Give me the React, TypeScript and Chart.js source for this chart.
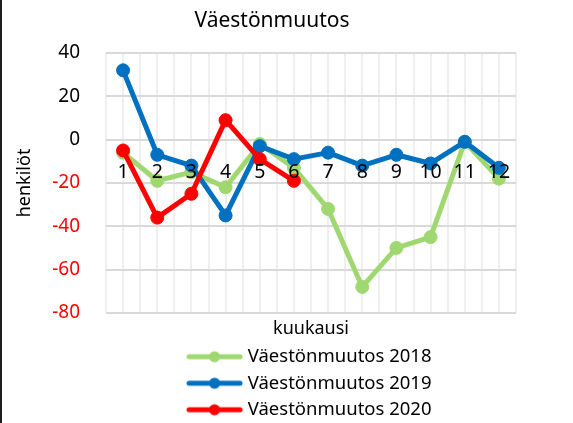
import React, { useEffect, useRef } from 'react';
import { Chart, registerables } from 'chart.js';

Chart.register(...registerables);

// ---- data ----
const months = [1, 2, 3, 4, 5, 6, 7, 8, 9, 10, 11, 12];
const values2018 = [-6, -19, -15, -22, -2, -13, -32, -68, -50, -45, -1, -18];
const values2019 = [32, -7, -12, -35, -3, -9, -6, -12, -7, -11, -1, -13];
const values2020 = [-5, -36, -25, 9, -9, -19];
const seriesNames = ['Väestönmuutos 2018', 'Väestönmuutos 2019', 'Väestönmuutos 2020'];
const seriesColors = ['#9fd870', '#0070c0', '#ff0000'];
const yMin = -80;
const yMax = 40;
const yStep = 20;
const chartTitle = 'Väestönmuutos';
const xTitle = 'kuukausi';
const yTitle = 'henkilöt';

const FONT = "'Noto Sans', 'DejaVu Sans', sans-serif";

function makeLegendIcon(color: string): HTMLCanvasElement {
  const c = document.createElement('canvas');
  c.width = 57;
  c.height = 14;
  const ctx = c.getContext('2d')!;
  ctx.strokeStyle = color;
  ctx.fillStyle = color;
  ctx.lineWidth = 5;
  ctx.lineCap = 'round';
  ctx.beginPath();
  ctx.moveTo(3, 7);
  ctx.lineTo(54, 7);
  ctx.stroke();
  ctx.beginPath();
  ctx.arc(28.5, 7, 5.5, 0, Math.PI * 2);
  ctx.fill();
  return c;
}

export default function App() {
  const canvasRef = useRef<HTMLCanvasElement | null>(null);

  useEffect(() => {
    if (!canvasRef.current) return;
    Chart.defaults.font.family = FONT;
    const icons = seriesColors.map(makeLegendIcon);
    const allValues = [values2018, values2019, values2020];

    const chart = new Chart(canvasRef.current, {
      type: 'line',
      data: {
        labels: months,
        datasets: allValues.map((vals, i) => ({
          label: seriesNames[i],
          data: vals,
          xAxisID: 'x',
          yAxisID: 'y',
          order: 2 - i,
          borderColor: seriesColors[i],
          backgroundColor: seriesColors[i],
          pointBackgroundColor: seriesColors[i],
          pointBorderColor: seriesColors[i],
          borderWidth: 5,
          pointRadius: 6.5,
          pointBorderWidth: 1,
          borderJoinStyle: 'round' as const,
          borderCapStyle: 'round' as const,
          tension: 0,
          fill: false,
        })),
      },
      options: {
        responsive: false,
        animation: false,
        devicePixelRatio: 1,
        layout: { padding: { left: 0, right: 29, top: 0, bottom: 0 } },
        plugins: {
          tooltip: { enabled: false },
          title: {
            display: true,
            text: chartTitle,
            color: '#000',
            font: { size: 21, weight: 'normal', family: FONT },
            padding: { top: 8.4, bottom: 19.4 },
          },
          legend: {
            position: 'bottom',
            fullSize: false,
            labels: {
              color: '#000',
              font: { size: 18.5, family: FONT },
              padding: 8,
              usePointStyle: true,
              pointStyleWidth: 48,
              sort: (a: any, b: any) => a.datasetIndex - b.datasetIndex,
              generateLabels: (ch: any) => {
                const items = (Chart.defaults.plugins.legend.labels as any).generateLabels(ch);
                return items.map((it: any) => ({ ...it, pointStyle: icons[it.datasetIndex], fontColor: '#000' }));
              },
            },
          },
        },
        scales: {
          x: {
            type: 'linear',
            position: { y: 0 } as any,
            min: months[0] - 0.5,
            max: months[months.length - 1] + 0.5,
            border: { display: false },
            grid: { color: '#efefef', lineWidth: 2, drawTicks: false },
            ticks: {
              z: 1,
              stepSize: 0.5,
              autoSkip: false,
              maxRotation: 0,
              padding: 21,
              color: '#000',
              font: { size: 19.5, family: FONT },
              callback: (v: any) => {
                const idx = months.indexOf(Number(v));
                return idx >= 0 ? String(months[idx]) : '';
              },
            },
          },
          x2: {
            type: 'linear',
            position: 'bottom',
            display: true,
            border: { display: false },
            grid: { display: false, drawTicks: false },
            ticks: { display: false },
            title: {
              display: true,
              text: xTitle,
              color: '#000',
              font: { size: 18, family: FONT },
              padding: { top: 5, bottom: 0 },
            },
          },
          y: {
            type: 'linear',
            position: 'left',
            min: yMin,
            max: yMax,
            border: { display: false },
            grid: { color: '#d9d9d9', lineWidth: 2, drawTicks: false },
            ticks: {
              stepSize: yStep,
              padding: 26,
              font: { size: 19, family: FONT },
              color: (ctx: any) => (ctx.tick && ctx.tick.value < 0 ? '#ff0000' : '#000'),
            },
            title: {
              display: true,
              text: yTitle,
              color: '#000',
              font: { size: 18, family: FONT },
              padding: { top: 13.7, bottom: 0 },
            },
            afterFit: (s: any) => {
              s.width = 106;
            },
          },
          yR: {
            type: 'linear',
            position: 'right',
            display: true,
            border: { display: false },
            grid: { display: false, drawTicks: false },
            ticks: { display: false },
            afterFit: (s: any) => {
              s.width = 28;
            },
          },
        },
      } as any,
    });
    return () => chart.destroy();
  }, []);

  return (
    <div style={{ position: 'fixed', left: 0, top: 0, width: 573, height: 429, background: '#fff', overflow: 'hidden' }}>
      <canvas ref={canvasRef} width={573} height={429} style={{ display: 'block' }} />
      <div style={{ position: 'absolute', left: 0, top: 0, width: 2, height: 429, background: '#1c1c1c' }} />
    </div>
  );
}
